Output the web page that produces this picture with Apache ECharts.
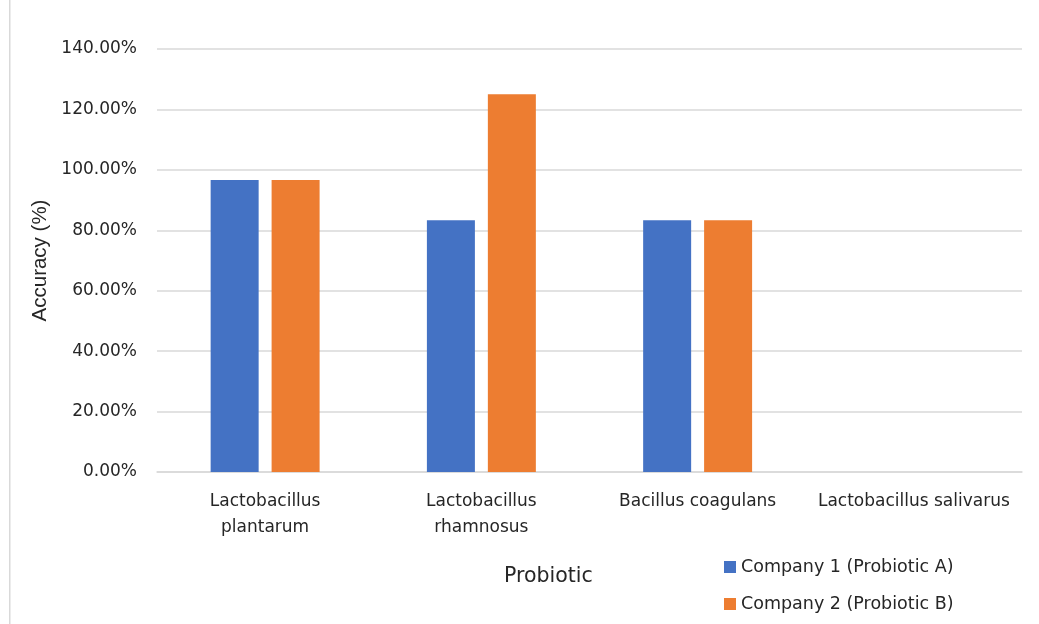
<!DOCTYPE html>
<html>
<head>
<meta charset="utf-8">
<script src="https://cdn.jsdelivr.net/npm/echarts@6/dist/echarts.min.js"></script>
<style>
  html, body { margin: 0; padding: 0; background: #ffffff; }
  #chart { width: 1039px; height: 624px; }
</style>
</head>
<body>
<div id="chart"></div>
<script>
// Probiotic strains on the x axis (display labels wrap like the spreadsheet did)
const categories = [
  'Lactobacillus plantarum',
  'Lactobacillus rhamnosus',
  'Bacillus coagulans',
  'Lactobacillus salivarus'
];
const categoryLabels = [
  'Lactobacillus\nplantarum',
  'Lactobacillus\nrhamnosus',
  'Bacillus coagulans',
  'Lactobacillus salivarus'
];
// Identification accuracy, in percent
const company1 = [96.67, 83.33, 83.33, 0];
const company2 = [96.67, 125.0, 83.33, 0];
const seriesNames = ['Company 1 (Probiotic A)', 'Company 2 (Probiotic B)'];
const yTicks = { min: 0, max: 140, interval: 20 };

const FONT = '"DejaVu Sans", sans-serif';
const TITLE_FONT = '"Liberation Sans", Arial, sans-serif';
const TEXT = '#262626';

const chart = echarts.init(document.getElementById('chart'), null, { renderer: 'canvas' });

chart.setOption({
  animation: false,
  backgroundColor: '#ffffff',
  textStyle: { fontFamily: FONT },
  grid: { left: 157, right: 17, top: 49, bottom: 152, containLabel: false },
  graphic: [
    // thin frame edge on the left of the chart area
    { type: 'rect', left: 9, top: 0, shape: { width: 1.5, height: 624 }, style: { fill: '#d9d9d9' }, silent: true },
    { type: 'text', left: 504, top: 566, style: { text: 'Probiotic', font: '20.5px ' + FONT, fill: TEXT } }
  ],
  legend: {
    orient: 'vertical',
    left: 719,
    top: 553,
    itemWidth: 12,
    itemHeight: 12,
    itemGap: 19,
    icon: 'rect',
    textStyle: { fontSize: 17.5, color: TEXT, fontFamily: FONT },
    data: seriesNames
  },
  xAxis: {
    type: 'category',
    data: categories,
    axisTick: { show: false },
    axisLine: { show: true, lineStyle: { color: '#d9d9d9', width: 1.5 } },
    axisLabel: {
      interval: 0,
      margin: 17,
      fontSize: 17,
      lineHeight: 26,
      color: TEXT,
      fontFamily: FONT,
      formatter: (v, i) => categoryLabels[i]
    }
  },
  yAxis: {
    type: 'value',
    min: yTicks.min,
    max: yTicks.max,
    interval: yTicks.interval,
    name: 'Accuracy (%)',
    nameLocation: 'middle',
    nameGap: 106,
    nameTextStyle: { fontSize: 20.5, color: TEXT, fontFamily: TITLE_FONT },
    axisLine: { show: false },
    axisTick: { show: false },
    splitLine: { lineStyle: { color: '#d9d9d9', width: 1.5 } },
    axisLabel: {
      margin: 20,
      fontSize: 17,
      color: TEXT,
      fontFamily: FONT,
      formatter: v => v.toFixed(2) + '%'
    }
  },
  series: [
    {
      name: seriesNames[0],
      type: 'bar',
      data: company1,
      barWidth: 48,
      barGap: '27%',
      itemStyle: { color: '#4472c4' }
    },
    {
      name: seriesNames[1],
      type: 'bar',
      data: company2,
      barWidth: 48,
      itemStyle: { color: '#ed7d31' }
    }
  ]
});
</script>
</body>
</html>
